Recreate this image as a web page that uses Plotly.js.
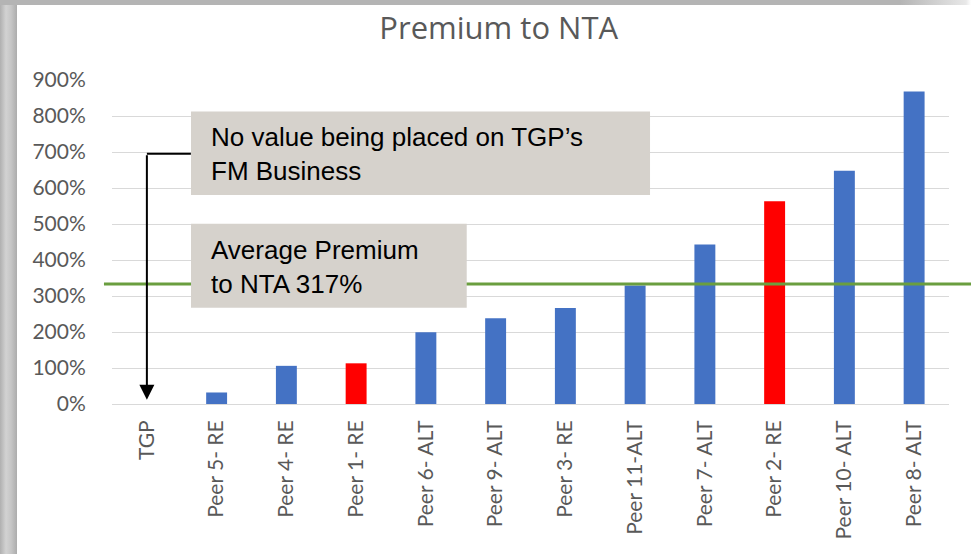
<!DOCTYPE html>
<html>
<head>
<meta charset="utf-8">
<script src="https://cdn.plot.ly/plotly-3.0.1.min.js"></script>
<style>
  html, body { margin: 0; padding: 0; width: 971px; height: 554px; overflow: hidden; background: #b3b3b3; }
  #leftstrip { position: absolute; left: 0; top: 0; width: 17px; height: 554px;
    background: linear-gradient(to right, #b0b0b0 0px, #d2d2d2 6px, #c6c6c6 11px, #acacac 17px); }
  #topstrip { position: absolute; left: 0; top: 0; width: 971px; height: 5px;
    background: linear-gradient(to right, #b4b4b4 0px, #b4b4b4 900px, #e8e8e8 966px, #ffffff 971px); }
  #chart { position: absolute; left: 17px; top: 5px; width: 954px; height: 549px; background: #ffffff; }
</style>
</head>
<body>
<div id="leftstrip"></div>
<div id="topstrip"></div>
<div id="chart"></div>
<script>
// ---- data ----
const categories = ["TGP", "Peer 5- RE", "Peer 4- RE", "Peer 1- RE", "Peer 6- ALT", "Peer 9- ALT",
                    "Peer 3- RE", "Peer 11-ALT", "Peer 7- ALT", "Peer 2- RE", "Peer 10- ALT", "Peer 8- ALT"];
const premiumToNTA = [0, 32, 106, 113, 199, 238, 267, 329, 443, 563, 648, 868]; // percent
const barColors = ["#4472C4", "#4472C4", "#4472C4", "#FF0000", "#4472C4", "#4472C4",
                   "#4472C4", "#4472C4", "#4472C4", "#FF0000", "#4472C4", "#4472C4"];
const averageLineValue = 333; // drawn position of the average line (label says 317%)
const yTickValues = [0, 100, 200, 300, 400, 500, 600, 700, 800, 900];
const yTickLabels = ["0%", "100%", "200%", "300%", "400%", "500%", "600%", "700%", "800%", "900%"];
const titleText = "Premium to NTA";
const note1Text = "No value being placed on TGP\u2019s<br>FM Business";
const note2Text = "Average Premium<br>to NTA 317%";

const trace = {
  type: "bar",
  x: categories,
  y: premiumToNTA,
  marker: { color: barColors, line: { width: 0 } },
  hoverinfo: "x+y"
};

const boxFill = "#D6D2CC";
const layout = {
  width: 954,
  height: 549,
  margin: { l: 95, r: 22, t: 75, b: 150, pad: 0 },
  paper_bgcolor: "#ffffff",
  plot_bgcolor: "#ffffff",
  showlegend: false,
  bargap: 0.7,
  title: {
    text: titleText,
    font: { family: "'Open Sans', Lato, sans-serif", size: 31, color: "#595959" },
    xref: "container", yref: "container",
    x: 0.505, xanchor: "center",
    y: 0.958, yanchor: "middle"
  },
  xaxis: {
    type: "category",
    tickangle: -90,
    tickfont: { family: "Lato, 'Open Sans', sans-serif", size: 21, color: "#595959" },
    ticks: "outside", ticklen: 7, tickcolor: "rgba(0,0,0,0)",
    showgrid: false, showline: false, zeroline: false,
    fixedrange: true
  },
  yaxis: {
    range: [0, 900],
    tickvals: yTickValues,
    ticktext: yTickLabels,
    tickfont: { family: "Lato, 'Open Sans', sans-serif", size: 21, color: "#595959" },
    ticks: "outside", ticklen: 21, tickcolor: "rgba(0,0,0,0)",
    showgrid: true, gridcolor: "#D9D9D9", gridwidth: 1,
    zeroline: true, zerolinecolor: "#D9D9D9", zerolinewidth: 1,
    showline: false, fixedrange: true
  },
  shapes: [
    // average line
    { type: "line", layer: "above", xref: "paper", yref: "y",
      x0: -0.0096, x1: 1.03, y0: averageLineValue, y1: averageLineValue,
      line: { color: "#6A9E3F", width: 3 } },
    // box 1
    { type: "rect", layer: "above", xref: "paper", yref: "paper",
      x0: 0.0944, x1: 0.6428, y0: 0.645, y1: 0.9024,
      fillcolor: boxFill, line: { width: 0 } },
    // box 2
    { type: "rect", layer: "above", xref: "paper", yref: "paper",
      x0: 0.0944, x1: 0.4238, y0: 0.2971, y1: 0.5565,
      fillcolor: boxFill, line: { width: 0 } },
    // connector from box 1 to arrow
    { type: "line", layer: "above", xref: "x", yref: "y",
      x0: 0, x1: 0.631, y0: 695, y1: 695,
      line: { color: "#000000", width: 2 } }
  ],
  annotations: [
    { xref: "x", yref: "y", x: 0, y: 12, axref: "x", ayref: "y", ax: 0, ay: 695,
      text: "", showarrow: true, arrowhead: 2, arrowsize: 1.5, arrowwidth: 2,
      arrowcolor: "#000000", standoff: 0 },
    { xref: "paper", yref: "paper", x: 0.1155, y: 0.7705, xanchor: "left", yanchor: "middle",
      align: "left", showarrow: false, text: note1Text,
      font: { family: "'Liberation Sans', Arial, sans-serif", size: 26, color: "#000000" } },
    { xref: "paper", yref: "paper", x: 0.1155, y: 0.4216, xanchor: "left", yanchor: "middle",
      align: "left", showarrow: false, text: note2Text,
      font: { family: "'Liberation Sans', Arial, sans-serif", size: 26, color: "#000000" } }
  ]
};

Plotly.newPlot("chart", [trace], layout, { displayModeBar: false, staticPlot: true });
</script>
</body>
</html>
